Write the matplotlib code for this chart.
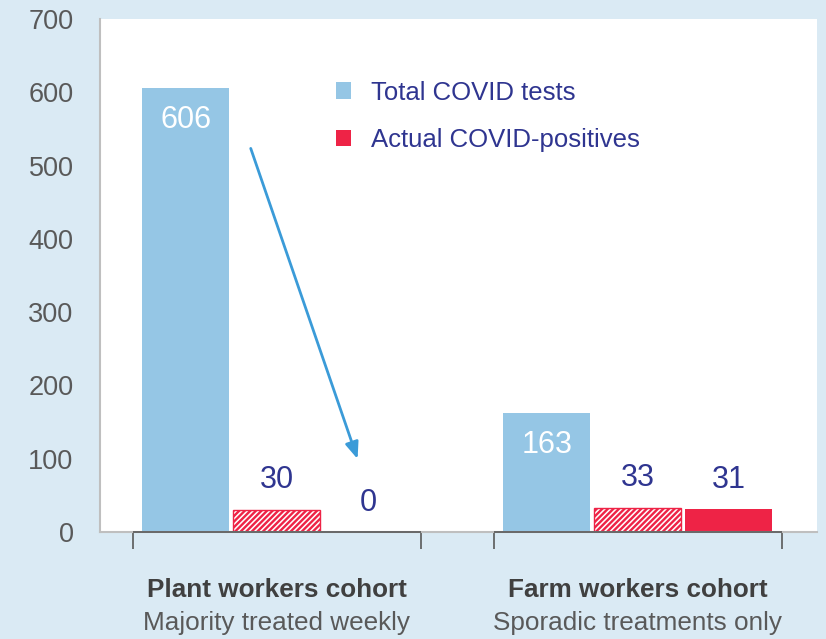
#!/usr/bin/env python3
"""COVID tests vs actual positives, by worker cohort."""

import numpy as np
import matplotlib.pyplot as plt
from matplotlib.patches import Patch
import matplotlib.transforms as mtransforms

plt.rcParams["font.family"] = ["Liberation Sans", "DejaVu Sans"]

# ---- data ----
COHORTS = ["Plant workers cohort", "Farm workers cohort"]
SUBTITLES = ["Majority treated weekly", "Sporadic treatments only"]
TOTAL_TESTS = [606, 163]
POSITIVE_TESTS = [30, 33]        # hatched bars
ACTUAL_POSITIVES = [0, 31]       # solid red bars
SERIES_NAMES = ["Total COVID tests", "Actual COVID-positives"]
Y_TICKS = [0, 100, 200, 300, 400, 500, 600, 700]

BG = "#daeaf4"
BLUE = "#95c6e5"
RED = "#ee2346"
NAVY = "#2f3590"
GREY = "#595959"

fig = plt.figure(figsize=(8.26, 6.39), dpi=100, facecolor=BG)
ax = fig.add_axes([100 / 826, 107 / 639, 717 / 826, 513 / 639])
ax.set_facecolor("white")

x = np.arange(len(COHORTS))
step = 0.252
width = 0.241

ax.bar(x - step, TOTAL_TESTS, width, color=BLUE, zorder=2)
plt.rcParams["hatch.linewidth"] = 1.7
ax.bar(x, POSITIVE_TESTS, width, facecolor="white", edgecolor=RED,
       hatch="//////", linewidth=1.0, zorder=2)
ax.bar(x + step, ACTUAL_POSITIVES, width, color=RED, zorder=2)

# value labels
for i in x:
    ax.text(i - step, TOTAL_TESTS[i] - 44, str(TOTAL_TESTS[i]), color="white",
            fontsize=22, ha="center", va="center")
    ax.text(i, POSITIVE_TESTS[i] + 41, str(POSITIVE_TESTS[i]), color=NAVY,
            fontsize=22, ha="center", va="center")
    ax.text(i + step, ACTUAL_POSITIVES[i] + 40, str(ACTUAL_POSITIVES[i]),
            color=NAVY, fontsize=22, ha="center", va="center")

ax.set_ylim(0, 700)
ax.set_xlim(-0.49, 1.496)
ax.set_yticks(Y_TICKS)
ax.tick_params(axis="y", length=0, pad=19, labelsize=19.5, labelcolor=GREY)

# group brackets on the x axis
half = 0.399
edges = [v for i in x for v in (i - half, i + half)]
ax.set_xticks(edges)
ax.set_xticklabels([])
ax.tick_params(axis="x", length=12, width=1.2, color="#595959", direction="out")
for i in x:
    ax.hlines(0, i - half, i + half, color="#595959", linewidth=1.2,
              zorder=3, clip_on=False)

for side in ["top", "right"]:
    ax.spines[side].set_visible(False)
ax.spines["left"].set_color("#bfbfbf")
ax.spines["left"].set_linewidth(1.5)
ax.spines["bottom"].set_color("#bfbfbf")
ax.spines["bottom"].set_linewidth(1.5)

# cohort labels
trans = mtransforms.blended_transform_factory(ax.transData, ax.transAxes)
for i in x:
    ax.text(i, -0.113, COHORTS[i], transform=trans, ha="center", va="center",
            fontsize=18.8, fontweight="bold", color="#404040")
    ax.text(i, -0.177, SUBTITLES[i], transform=trans, ha="center",
            va="center", fontsize=18.8, color=GREY)

# arrow
ax.annotate("", xy=(0.226, 96), xytext=(-0.075, 527),
            arrowprops=dict(arrowstyle="-|>,head_length=1.0,head_width=0.4",
                            color="#3b9bd8", lw=2))

handles = [Patch(facecolor=BLUE), Patch(facecolor=RED)]
leg = ax.legend(handles, SERIES_NAMES, loc="upper left",
                bbox_to_anchor=(0.297, 0.925), frameon=False, fontsize=18.5,
                handlelength=0.6, handleheight=0.6, handletextpad=0.75,
                labelspacing=0.9)
for t in leg.get_texts():
    t.set_color(NAVY)

fig.savefig("out.png", dpi=100, facecolor=BG)
